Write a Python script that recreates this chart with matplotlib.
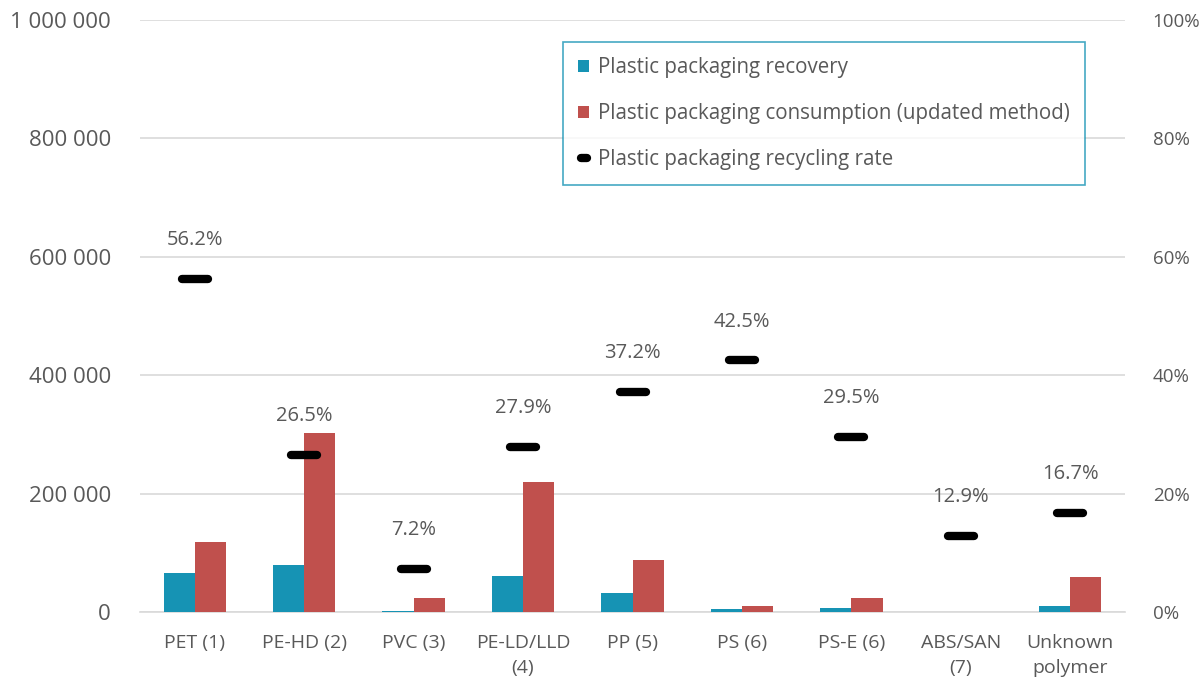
import matplotlib
matplotlib.use("Agg")
import matplotlib.pyplot as plt
from matplotlib.markers import MarkerStyle
from matplotlib.lines import Line2D
from matplotlib.patches import Patch
import numpy as np

# Polymer categories and packaging tonnages
categories = ["PET (1)", "PE-HD (2)", "PVC (3)", "PE-LD/LLD\n(4)", "PP (5)",
              "PS (6)", "PS-E (6)", "ABS/SAN\n(7)", "Unknown\npolymer"]
recovery = [66300, 80000, 1700, 61400, 32700, 4250, 7000, 80, 9900]
consumption = [118000, 302000, 24000, 220000, 88000, 10000, 23600, 600, 59000]
recycling_rate = [56.2, 26.5, 7.2, 27.9, 37.2, 42.5, 29.5, 12.9, 16.7]

left_ticks = [0, 200000, 400000, 600000, 800000, 1000000]
right_ticks = [0, 20, 40, 60, 80, 100]

TEAL = "#1693b4"
RED = "#c0504d"
TEXT = "#595959"
GRID = "#d9d9d9"

plt.rcParams["font.family"] = ["Open Sans", "DejaVu Sans"]

fig = plt.figure(figsize=(12.04, 6.84), dpi=100)
ax = fig.add_axes([140 / 1204, 72 / 684, 985 / 1204, 592 / 684])
ax2 = ax.twinx()

x = np.arange(len(categories))
w = 0.285
ax.bar(x - w / 2, recovery, width=w, color=TEAL, zorder=3)
ax.bar(x + w / 2, consumption, width=w, color=RED, zorder=3)

ax.set_xlim(-0.5, len(categories) - 0.5)
ax.set_ylim(0, 1000000)
ax.set_yticks(left_ticks)
ax.set_yticklabels([f"{v:,}".replace(",", " ") for v in left_ticks])
ax.grid(axis="y", color=GRID, linewidth=1.2, zorder=0)
ax.set_xticks(x)
ax.set_xticklabels(categories, fontsize=14, color=TEXT, linespacing=1.45)
ax.tick_params(axis="x", length=0, pad=16)
ax.tick_params(axis="y", length=0, labelsize=16, labelcolor=TEXT, pad=21)
for s in ["top", "right", "left"]:
    ax.spines[s].set_visible(False)
ax.spines["bottom"].set_color(GRID)
ax.spines["bottom"].set_linewidth(1.2)

# Recycling rate on the secondary axis, drawn as short rounded dashes
dash = MarkerStyle("_", capstyle="round")
ax2.plot(x, recycling_rate, ls="none", marker=dash, ms=19, mew=6,
         color="black", zorder=4)
for xi, r in zip(x, recycling_rate):
    ax2.annotate(f"{r:.1f}%", (xi, r), xytext=(0, 28), textcoords="offset points",
                 ha="center", va="center", fontsize=14.5, color=TEXT)
ax2.set_ylim(0, 100)
ax2.set_yticks(right_ticks)
ax2.set_yticklabels([f"{v}%" for v in right_ticks])
ax2.tick_params(axis="y", length=0, labelsize=13.5, labelcolor=TEXT, pad=20)
for s in ax2.spines.values():
    s.set_visible(False)

handles = [
    Patch(facecolor=TEAL, label="Plastic packaging recovery"),
    Patch(facecolor=RED, label="Plastic packaging consumption (updated method)"),
    Line2D([], [], ls="none", marker=dash, ms=5, mew=6, color="black",
           label="Plastic packaging recycling rate"),
]
leg = ax2.legend(handles=handles, loc="upper left",
                 bbox_to_anchor=(423 / 985, 1 - 22 / 592), fontsize=14.8,
                 labelcolor=TEXT, frameon=True, fancybox=False,
                 handlelength=0.5, handleheight=0.5, handletextpad=0.45,
                 labelspacing=1.2, borderpad=0.75, borderaxespad=0)
leg.get_frame().set_edgecolor(TEAL)
leg.get_frame().set_linewidth(1.2)

fig.savefig("out.png", dpi=100, facecolor="white")
